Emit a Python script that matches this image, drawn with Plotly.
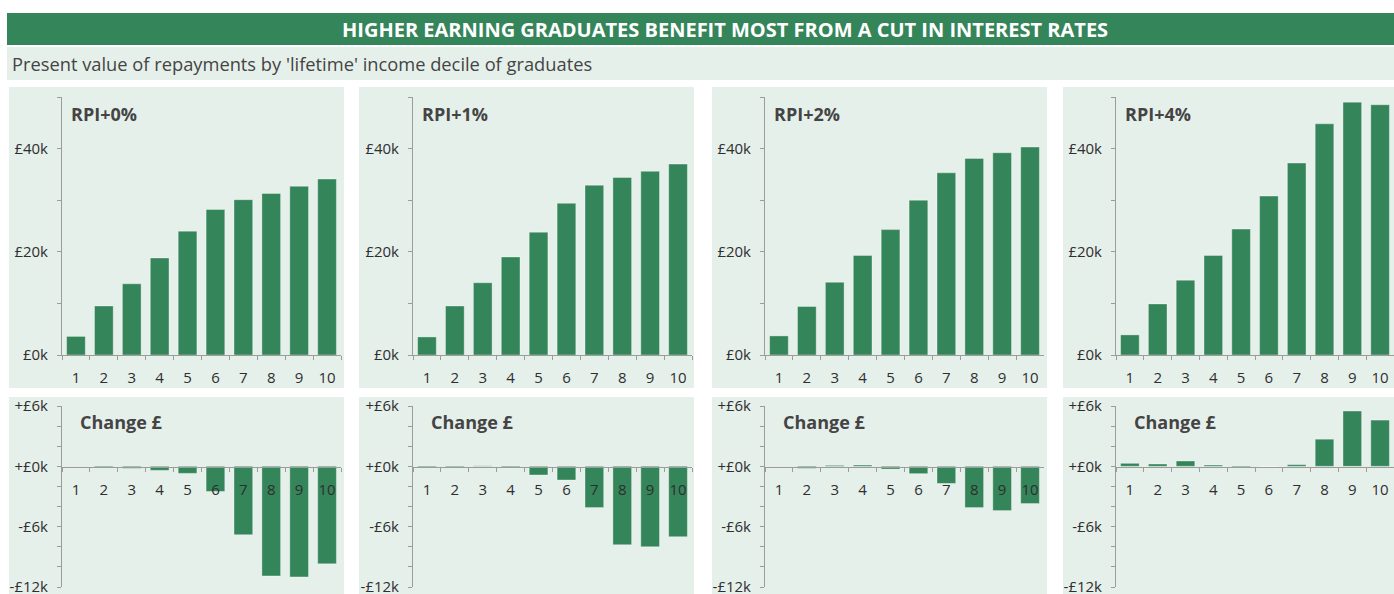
import plotly.graph_objects as go

# ---- data (values in £k) ----
deciles = ["1", "2", "3", "4", "5", "6", "7", "8", "9", "10"]
scenarios = ["RPI+0%", "RPI+1%", "RPI+2%", "RPI+4%"]

pv_rpi0 = [3.6, 9.5, 13.8, 18.8, 24.0, 28.2, 30.1, 31.3, 32.7, 34.1]
pv_rpi1 = [3.5, 9.5, 14.0, 19.0, 23.8, 29.4, 32.9, 34.4, 35.6, 37.0]
pv_rpi2 = [3.7, 9.4, 14.1, 19.3, 24.3, 30.0, 35.3, 38.1, 39.2, 40.3]
pv_rpi4 = [3.9, 9.9, 14.5, 19.3, 24.4, 30.8, 37.2, 44.8, 49.0, 48.5]

chg_rpi0 = [-0.02, -0.17, -0.2, -0.4, -0.7, -2.5, -6.8, -10.9, -11.0, -9.7]
chg_rpi1 = [-0.12, -0.1, 0.05, -0.15, -0.86, -1.36, -4.1, -7.8, -8.0, -7.0]
chg_rpi2 = [-0.02, -0.2, 0.1, 0.13, -0.27, -0.73, -1.7, -4.1, -4.4, -3.7]
chg_rpi4 = [0.3, 0.23, 0.53, 0.13, -0.17, 0.0, 0.17, 2.7, 5.5, 4.6]

title_text = "HIGHER EARNING GRADUATES BENEFIT MOST FROM A CUT IN INTEREST RATES"
subtitle_text = "Present value of repayments by 'lifetime' income decile of graduates"
change_label = "Change £"

top_ticks = [0, 10, 20, 30, 40, 50]
top_ticktext = ["£0k", "", "£20k", "", "£40k", ""]
bot_ticks = [-12, -10, -8, -6, -4, -2, 0, 2, 4, 6]
bot_ticktext = ["-£12k", "", "", "-£6k", "", "", "+£0k", "", "", "+£6k"]

pv_series = [pv_rpi0, pv_rpi1, pv_rpi2, pv_rpi4]
chg_series = [chg_rpi0, chg_rpi1, chg_rpi2, chg_rpi4]

# ---- style ----
W, H = 1394, 594
GREEN = "#35855A"
LIGHT = "#E6F0EA"
AXIS = "#9C9C9C"
TXT = "#2E2E2E"
LBL = "#444444"
FONT = "Open Sans"


def px_x(v):
    return min(1.0, max(0.0, v / W))


def px_y(v):
    return min(1.0, max(0.0, 1 - v / H))


axis_x0 = [62, 413, 765, 1116]
axis_w = 279
bg_x0 = [9, 359, 712, 1063]
bg_w = 335

top_dom = [px_y(355), px_y(97)]
bot_dom = [px_y(587), px_y(406)]
zero_pos = px_y(467)

fig = go.Figure()
layout = dict(
    width=W, height=H,
    margin=dict(l=0, r=0, t=0, b=0, autoexpand=False),
    paper_bgcolor="white",
    plot_bgcolor="rgba(0,0,0,0)",
    showlegend=False,
    bargap=0.33,
    font=dict(family=FONT, color=TXT, size=15),
)
shapes = []
annotations = []

# title and subtitle bands
shapes.append(dict(type="rect", xref="paper", yref="paper", x0=px_x(7), x1=1.0,
                   y0=px_y(45), y1=px_y(13), fillcolor=GREEN, line=dict(width=0), layer="below"))
shapes.append(dict(type="rect", xref="paper", yref="paper", x0=px_x(7), x1=1.0,
                   y0=px_y(80), y1=px_y(47), fillcolor=LIGHT, line=dict(width=0), layer="below"))
annotations.append(dict(text="<b>" + title_text + "</b>", xref="paper", yref="paper",
                        x=px_x(725), y=px_y(29), xanchor="center", yanchor="middle",
                        showarrow=False, font=dict(family=FONT, size=20, color="white")))
annotations.append(dict(text=subtitle_text, xref="paper", yref="paper",
                        x=px_x(10), y=px_y(64), xanchor="left", yanchor="middle",
                        showarrow=False, font=dict(family=FONT, size=18.3, color=LBL)))

for i in range(4):
    # backgrounds
    shapes.append(dict(type="rect", xref="paper", yref="paper",
                       x0=px_x(bg_x0[i]), x1=px_x(bg_x0[i] + bg_w),
                       y0=px_y(388), y1=px_y(87), fillcolor=LIGHT, line=dict(width=0), layer="below"))
    shapes.append(dict(type="rect", xref="paper", yref="paper",
                       x0=px_x(bg_x0[i]), x1=px_x(bg_x0[i] + bg_w),
                       y0=0, y1=px_y(397), fillcolor=LIGHT, line=dict(width=0), layer="below"))

    xd = [px_x(axis_x0[i]), px_x(axis_x0[i] + axis_w)]
    t = i + 1
    b = i + 5
    common_x = dict(type="category", tickson="boundaries", ticks="outside", ticklen=4,
                    tickcolor=AXIS, showline=True, linecolor=AXIS, linewidth=1,
                    showgrid=False, zeroline=False, domain=xd, automargin=False,
                    ticklabelstandoff=9, layer="above traces", ticklabeloverflow="allow",
                    tickfont=dict(family=FONT, size=15, color=TXT), fixedrange=True)
    common_y = dict(ticks="outside", ticklen=4, tickcolor=AXIS, showline=True,
                    linecolor=AXIS, linewidth=1, showgrid=False, zeroline=False,
                    tickmode="array", tickfont=dict(family=FONT, size=15, color=TXT),
                    ticklabelstandoff=6, automargin=False, fixedrange=True,
                    ticklabeloverflow="allow")

    layout[f"xaxis{t}"] = dict(common_x, anchor=f"y{t}")
    layout[f"yaxis{t}"] = dict(common_y, anchor=f"x{t}", domain=top_dom, range=[0, 50],
                               tickvals=top_ticks, ticktext=top_ticktext)
    layout[f"xaxis{b}"] = dict(common_x, anchor="free", position=zero_pos)
    layout[f"yaxis{b}"] = dict(common_y, anchor=f"x{b}", domain=bot_dom, range=[-12, 6],
                               tickvals=bot_ticks, ticktext=bot_ticktext)

    fig.add_trace(go.Bar(x=deciles, y=pv_series[i], xaxis=f"x{t}", yaxis=f"y{t}",
                         marker=dict(color=GREEN, line=dict(color="rgba(255,255,255,0.35)", width=1))))
    fig.add_trace(go.Bar(x=deciles, y=chg_series[i], xaxis=f"x{b}", yaxis=f"y{b}",
                         marker=dict(color=GREEN, line=dict(color="rgba(255,255,255,0.35)", width=1))))

    annotations.append(dict(text="<b>" + scenarios[i] + "</b>", xref="paper", yref="paper",
                            x=px_x(axis_x0[i] + 7), y=px_y(114), xanchor="left", yanchor="middle",
                            showarrow=False, font=dict(family=FONT, size=18, color=LBL)))
    annotations.append(dict(text="<b>" + change_label + "</b>", xref="paper", yref="paper",
                            x=px_x(axis_x0[i] + 16), y=px_y(422), xanchor="left", yanchor="middle",
                            showarrow=False, font=dict(family=FONT, size=18, color=LBL)))

layout["shapes"] = shapes
layout["annotations"] = annotations
fig.update_layout(**layout)
fig.write_html("out.html", config={"displayModeBar": False},
               post_script="document.body.style.margin='0';document.body.style.overflow='hidden';")
